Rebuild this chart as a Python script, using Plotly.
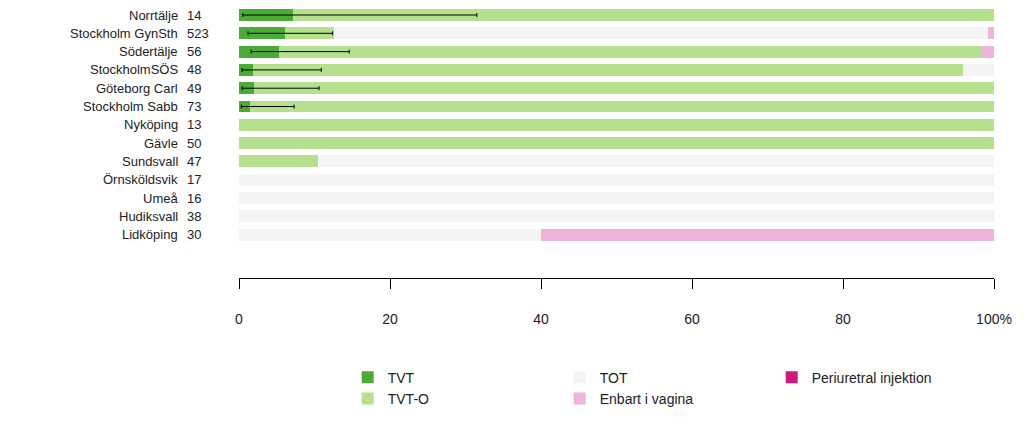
import plotly.graph_objects as go

clinics = ["Norrtälje","Stockholm GynSth","Södertälje","StockholmSÖS","Göteborg Carl","Stockholm Sabb",
           "Nyköping","Gävle","Sundsvall","Örnsköldsvik","Umeå","Hudiksvall","Lidköping"]
counts = [14,523,56,48,49,73,13,50,47,17,16,38,30]
tvt   = [7.1,6.1,5.3,1.9,2.0,1.4,0,0,0,0,0,0,0]
tvto  = [92.9,6.5,93.0,94.0,98.0,98.6,100,100,10.5,0,0,0,0]
tot   = [0,86.6,0,4.1,0,0,0,0,89.5,100,100,100,40]
vagina= [0,0.8,1.7,0,0,0,0,0,0,0,0,0,60]
peri  = [0]*13
err_lo= [0.5,1.2,1.6,0.4,0.4,0.3,None,None,None,None,None,None,None]
err_hi= [31.5,12.4,14.6,10.9,10.6,7.3,None,None,None,None,None,None,None]

ypos = list(range(len(clinics)))
fig = go.Figure()
series = [("TVT",tvt,"#4aab35",1),("TVT-O",tvto,"#b5e08e",4),("TOT",tot,"#f4f4f4",2),
          ("Enbart i vagina",vagina,"#f0b3d9",5),("Periuretral injektion",peri,"#d0187f",3)]
for name, vals, col, rank in series:
    fig.add_trace(go.Bar(y=ypos, x=vals, orientation="h", name=name, marker_color=col,
                         marker_line_width=0, width=0.65, legendrank=rank))
ex, ey, ep, em = [], [], [], []
for i in range(len(clinics)):
    if err_hi[i] is not None:
        ex.append(tvt[i]); ey.append(i); ep.append(err_hi[i]-tvt[i]); em.append(tvt[i]-err_lo[i])
fig.add_trace(go.Scatter(x=ex, y=ey, mode="markers", marker=dict(size=1, color="rgba(0,0,0,0)"),
                         showlegend=False, hoverinfo="skip",
                         error_x=dict(type="data", symmetric=False, array=ep, arrayminus=em,
                                      color="black", thickness=1, width=2)))
for i,(c,n) in enumerate(zip(clinics,counts)):
    fig.add_annotation(x=0, y=i, xref="paper", yref="y", text=c, showarrow=False,
                       xanchor="right", xshift=-59, font=dict(size=13, color="#222"))
    fig.add_annotation(x=0, y=i, xref="paper", yref="y", text=str(n), showarrow=False,
                       xanchor="left", xshift=-54, font=dict(size=13, color="#222"))
fig.update_layout(
    width=1024, height=421, barmode="stack", plot_bgcolor="white", paper_bgcolor="white",
    margin=dict(l=231, r=38, t=0, b=151, autoexpand=False),
    font=dict(family="Liberation Sans, Arial", size=14, color="#222"),
    xaxis=dict(range=[0,100], tickvals=[0,20,40,60,80,100], ticktext=["0","20","40","60","80","100%"],
               showgrid=False, zeroline=False, showline=True, linecolor="black", ticks="outside",
               ticklen=10, tickcolor="black", ticklabelstandoff=18),
    yaxis=dict(range=[14.37,-0.383], showticklabels=False, showgrid=False, zeroline=False),
    legend=dict(orientation="h", x=0.144, y=-0.31, xanchor="left", yanchor="top",
                entrywidth=167, font=dict(size=14), traceorder="normal"),
    showlegend=True,
)
fig.write_html("out.html")
